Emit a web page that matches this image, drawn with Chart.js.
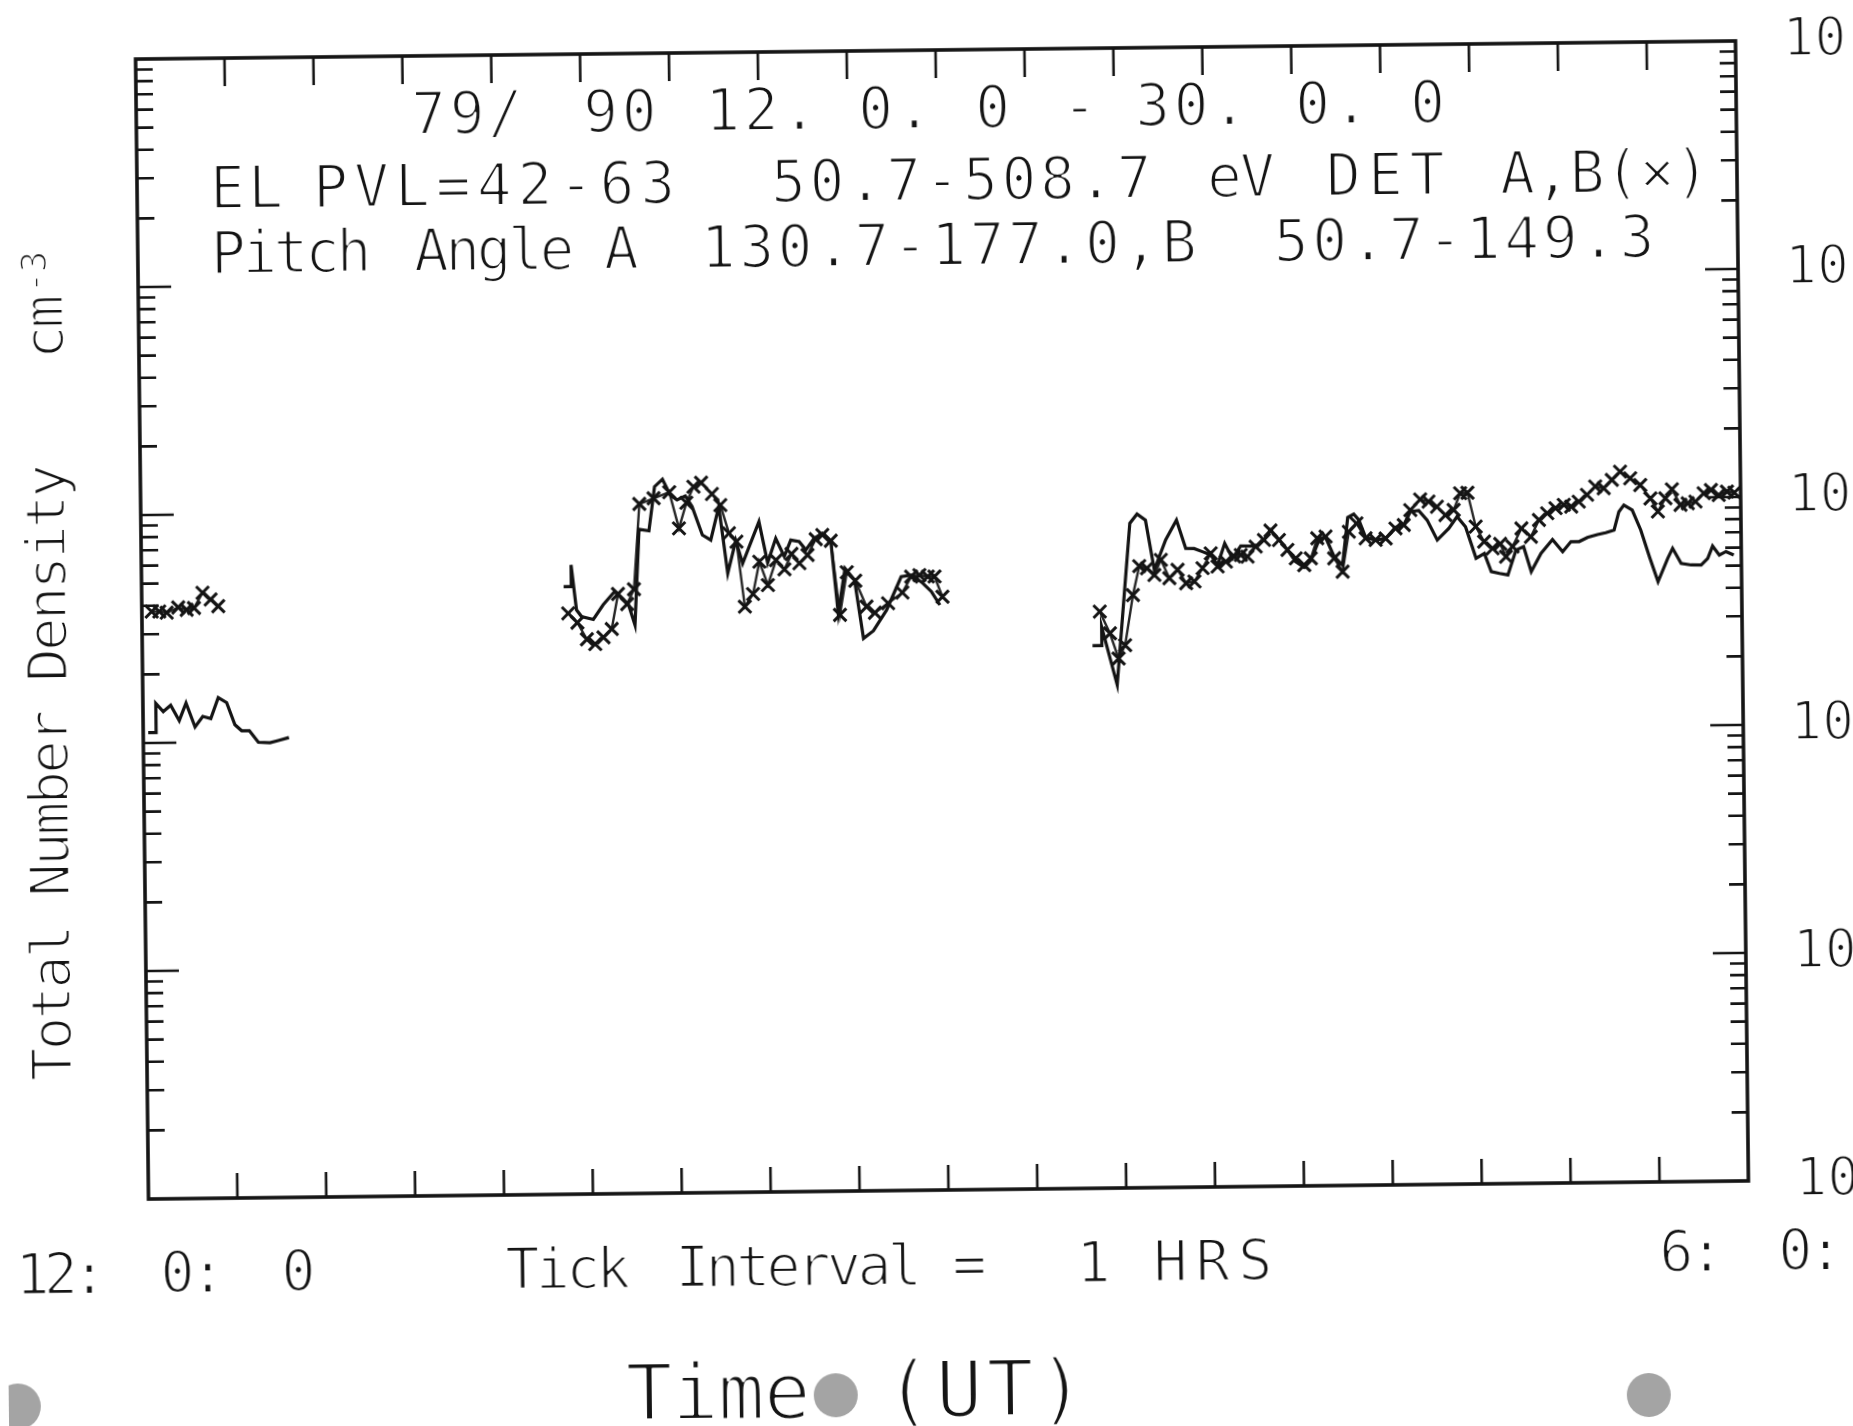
<!DOCTYPE html>
<html>
<head>
<meta charset="utf-8">
<script src="https://cdn.jsdelivr.net/npm/chart.js@4.4.1/dist/chart.umd.min.js"></script>
<style>
  html, body { margin: 0; padding: 0; background: #ffffff; width: 1853px; height: 1426px; overflow: hidden; }
  #chart { position: absolute; left: 0; top: 0; display: block;
           transform-origin: 942px 620px; transform: rotate(-0.65deg); }
</style>
</head>
<body>
<canvas id="chart" width="1853" height="1426"></canvas>
<script>
// Electron total number density, 50.7-508.7 eV, detectors A and B.
// Time is in hours after 12:00:00 UT; a null density breaks the trace between passes.
const hoursA = [
  0.056, 0.145, 0.145, 0.228, 0.312, 0.407, 0.485, 0.584, 0.672, 0.762, 0.848, 0.942, 1.033, 1.108, 1.194, 1.294, 1.425, 1.519, 1.639,
  3.0,
  4.748, 4.834, 4.834, 4.890, 4.946, 5.078, 5.190, 5.321, 5.408, 5.471, 5.546, 5.603, 5.715, 5.783, 5.873, 5.959, 6.034, 6.128, 6.203, 6.315,
  6.409, 6.503, 6.596, 6.690, 6.765, 6.953, 7.046, 7.140, 7.234, 7.309, 7.403, 7.478, 7.571, 7.665, 7.759, 7.834, 7.916, 8.021, 8.115, 8.228,
  8.378, 8.546, 8.670, 8.790, 8.884, 8.978,
  10.0,
  10.690, 10.795, 10.795, 10.963, 11.125, 11.207, 11.301, 11.395, 11.526, 11.650, 11.751, 11.845, 11.938, 12.032, 12.107, 12.190, 12.276,
  12.370, 12.482, 12.557, 12.632, 12.707, 12.801, 12.895, 12.988, 13.082, 13.157, 13.251, 13.326, 13.420, 13.513, 13.577, 13.645, 13.701,
  13.776, 13.888, 14.001, 14.113, 14.207, 14.282, 14.376, 14.470, 14.582, 14.713, 14.807, 14.901, 15.016, 15.110, 15.185, 15.278, 15.372,
  15.466, 15.552, 15.635, 15.747, 15.878, 15.991, 16.085, 16.178, 16.272, 16.385, 16.478, 16.572, 16.628, 16.685, 16.778, 16.872, 16.966,
  17.060, 17.172, 17.228, 17.322, 17.435, 17.547, 17.622, 17.678, 17.753, 17.828, 17.915
];
const densityA = [
  0.111, 0.111, 0.149, 0.137, 0.146, 0.125, 0.149, 0.117, 0.130, 0.127, 0.157, 0.149, 0.119, 0.112, 0.112, 0.0995, 0.0989, 0.101, 0.104,
  null,
  0.462, 0.462, 0.575, 0.365, 0.341, 0.331, 0.383, 0.438, 0.405, 0.388, 0.311, 0.818, 0.805, 1.256, 1.352, 1.153, 1.096, 1.140, 1.023, 0.767,
  0.728, 1.019, 0.519, 0.721, 0.573, 0.871, 0.575, 0.735, 0.611, 0.721, 0.710, 0.652, 0.731, 0.769, 0.713, 0.342, 0.538, 0.479, 0.265, 0.286,
  0.352, 0.492, 0.500, 0.459, 0.422, 0.368,
  null,
  0.240, 0.240, 0.290, 0.161, 0.822, 0.902, 0.847, 0.512, 0.692, 0.845, 0.634, 0.632, 0.612, 0.592, 0.533, 0.664, 0.570,
  0.646, 0.644, 0.650, 0.684, 0.755, 0.687, 0.617, 0.547, 0.516, 0.552, 0.679, 0.697, 0.573, 0.526, 0.851, 0.879, 0.828,
  0.695, 0.675, 0.685, 0.766, 0.783, 0.895, 0.904, 0.820, 0.670, 0.753, 0.847, 0.764, 0.555, 0.582, 0.484, 0.475, 0.467,
  0.600, 0.621, 0.482, 0.579, 0.665, 0.587, 0.649, 0.649, 0.676, 0.695, 0.708, 0.726, 0.873, 0.933, 0.887, 0.724, 0.553,
  0.429, 0.542, 0.600, 0.515, 0.506, 0.505, 0.540, 0.611, 0.557, 0.577, 0.557
];
const hoursB = [
  0.110, 0.196, 0.279, 0.410, 0.504, 0.587, 0.685, 0.775, 0.860,
  3.0,
  4.796, 4.898, 5.003, 5.096, 5.190, 5.284, 5.359, 5.460, 5.539, 5.610, 5.771, 5.948, 6.053, 6.139, 6.221, 6.308, 6.428, 6.521, 6.615, 6.698,
  6.784, 6.878, 6.953, 7.046, 7.140, 7.234, 7.316, 7.403, 7.496, 7.590, 7.665, 7.759, 7.853, 7.935, 8.029, 8.153, 8.246, 8.396, 8.558, 8.659,
  8.752, 8.846, 8.921, 9.008,
  10.0,
  10.776, 10.888, 10.982, 11.057, 11.151, 11.226, 11.312, 11.395, 11.470, 11.563, 11.657, 11.751, 11.845, 11.938, 12.032, 12.107,
  12.201, 12.295, 12.370, 12.445, 12.538, 12.632, 12.707, 12.801, 12.895, 12.988, 13.082, 13.157, 13.232, 13.326, 13.420, 13.513,
  13.588, 13.675, 13.776, 13.888, 14.001, 14.113, 14.207, 14.282, 14.395, 14.488, 14.582, 14.676, 14.770, 14.845, 14.927, 15.016,
  15.109, 15.203, 15.290, 15.353, 15.428, 15.530, 15.635, 15.728, 15.822, 15.916, 16.010, 16.092, 16.178, 16.272, 16.366, 16.460,
  16.553, 16.647, 16.760, 16.872, 16.985, 17.067, 17.153, 17.228, 17.322, 17.404, 17.491, 17.585, 17.667, 17.753, 17.847, 17.930
];
const densityB = [
  0.377, 0.377, 0.372, 0.392, 0.382, 0.389, 0.453, 0.423, 0.395,
  null,
  0.353, 0.321, 0.271, 0.258, 0.276, 0.300, 0.427, 0.385, 0.447, 1.057, 1.117, 1.186, 0.822, 1.064, 1.250, 1.300, 1.159, 1.035, 0.778, 0.714,
  0.370, 0.420, 0.582, 0.459, 0.590, 0.537, 0.627, 0.570, 0.619, 0.726, 0.757, 0.713, 0.337, 0.518, 0.475, 0.365, 0.343, 0.377, 0.419, 0.492,
  0.499, 0.491, 0.491, 0.400,
  null,
  0.338, 0.271, 0.210, 0.240, 0.398, 0.533, 0.521, 0.486, 0.566, 0.470, 0.511, 0.446, 0.453, 0.518, 0.601, 0.526,
  0.552, 0.581, 0.589, 0.579, 0.640, 0.684, 0.752, 0.682, 0.617, 0.566, 0.528, 0.565, 0.692, 0.703, 0.564, 0.492,
  0.736, 0.800, 0.687, 0.675, 0.685, 0.757, 0.783, 0.910, 1.012, 0.989, 0.938, 0.861, 0.906, 1.072, 1.076, 0.764,
  0.656, 0.612, 0.640, 0.562, 0.622, 0.746, 0.685, 0.811, 0.867, 0.912, 0.942, 0.925, 0.971, 1.040, 1.130, 1.109,
  1.205, 1.309, 1.222, 1.140, 0.995, 0.871, 0.995, 1.089, 0.929, 0.944, 0.959, 1.042, 1.076, 1.021, 1.057, 1.045
];

// Axis ticks: one per hour on the time axis, decades with 2..9 minors on the density axis.
const hourTicks = [1, 2, 3, 4, 5, 6, 7, 8, 9, 10, 11, 12, 13, 14, 15, 16, 17];
const decadeTicks = [0.001, 0.01, 0.1, 1, 10, 100];
const decadeExponents = ['-3', '-2', '-1', '0', '1', '2'];
const minorFactors = [2, 3, 4, 5, 6, 7, 8, 9];

// Text of the plot header and time axis.
const headerLine1 = ['79/', '90', '12.', '0.', '0', '-', '30.', '0.', '0'];
const headerLine2 = ['EL', 'PVL=42-63', '50.7-508.7', 'eV', 'DET', 'A,B(×)'];
const headerLine3 = ['Pitch', 'Angle', 'A', '130.7-177.0,B', '50.7-149.3'];
const startLabel = ['12:', '0:', '0'];
const endLabel = ['6:', '0:', '0'];
const intervalLabel = ['Tick', 'Interval', '=', '1', 'HRS'];

const INK = '#141414';
const MONO = '"DejaVu Sans Mono", "Liberation Mono", monospace';

// Pen-plotter lettering: fill the glyph, then trim its edges with a thin
// white outline so the strokes come out fine like a plotter pen.
function word(ctx, str, x, y, size, spacing, trim) {
  ctx.font = size + 'px ' + MONO;
  ctx.letterSpacing = spacing + 'px';
  ctx.fillStyle = INK;
  ctx.fillText(str, x, y);
  ctx.strokeStyle = '#ffffff';
  ctx.lineWidth = trim === undefined ? 2.2 : trim;
  ctx.lineJoin = 'round';
  ctx.strokeText(str, x, y);
}

const plotterFrame = {
  id: 'plotterFrame',
  beforeDatasetsDraw(chart) {
    const { ctx, chartArea: a, scales: { x, y } } = chart;
    ctx.save();
    ctx.strokeStyle = INK;
    ctx.lineCap = 'butt';
    ctx.lineWidth = 3.6;
    ctx.strokeRect(a.left, a.top, a.right - a.left, a.bottom - a.top);
    ctx.lineWidth = 2.6;
    ctx.beginPath();
    hourTicks.forEach(h => {
      const px = x.getPixelForValue(h);
      ctx.moveTo(px, a.top); ctx.lineTo(px, a.top + 28);
      ctx.moveTo(px, a.bottom); ctx.lineTo(px, a.bottom - 25);
    });
    decadeTicks.forEach((d, i) => {
      const py = y.getPixelForValue(d);
      if (i > 0 && i < decadeTicks.length - 1) {
        ctx.moveTo(a.left, py); ctx.lineTo(a.left + 33, py);
        ctx.moveTo(a.right, py); ctx.lineTo(a.right - 33, py);
      }
      if (i < decadeTicks.length - 1) {
        minorFactors.forEach(m => {
          const pm = y.getPixelForValue(d * m);
          ctx.moveTo(a.left, pm); ctx.lineTo(a.left + 17, pm);
          ctx.moveTo(a.right, pm); ctx.lineTo(a.right - 16, pm);
        });
      }
    });
    ctx.stroke();
    ctx.restore();
  },
  afterDraw(chart) {
    const { ctx, scales: { y } } = chart;
    ctx.save();
    ctx.textAlign = 'left';
    ctx.textBaseline = 'alphabetic';

    // header inside the frame
    const x1 = [417, 589, 711, 864, 981, 1068, 1141, 1301, 1416];
    headerLine1.forEach((s, i) => word(ctx, s, x1[i], 128, 58, 3.5));
    const x2 = [215, 318, 776, 1212, 1331, 1505];
    const s2 = [3, 6, 3.5, -2, 7, 0];
    headerLine2.forEach((s, i) => word(ctx, s, x2[i], 200, 58, s2[i]));
    const x3 = [215, 418, 608, 705, 1278];
    const s3 = [-3.5, -3.5, 0, 3.5, 3.5];
    headerLine3.forEach((s, i) => word(ctx, s, x3[i], 265, 58, s3[i]));

    // decade labels on the right; the exponent runs past the sheet edge
    decadeTicks.forEach((d, i) => {
      const py = y.getPixelForValue(d) + 15;
      word(ctx, '10', 1789, py, 53, 0);
      word(ctx, decadeExponents[i], 1866, py - 22, 30, 0);
    });

    // time axis annotations
    word(ctx, startLabel[0], 8, 1284, 57, -6);
    word(ctx, startLabel[1], 153, 1284, 57, -4);
    word(ctx, startLabel[2], 274, 1284, 57, -4);
    const xi = [498, 668, 945, 1069, 1146];
    const si = [-4, -4, -4, -4, 8];
    intervalLabel.forEach((s, i) => word(ctx, s, xi[i], 1284, 57, si[i]));
    const xe = [1652, 1771, 1890];
    endLabel.forEach((s, i) => word(ctx, s, xe[i], 1280, 57, -4));
    word(ctx, 'Time', 617, 1417, 78, -1, 2.8);
    word(ctx, '(UT)', 876, 1417, 78, 4, 2.8);

    // vertical axis title
    ctx.save();
    ctx.translate(66, 1071);
    ctx.rotate(-Math.PI / 2);
    word(ctx, 'Total Number Density', 0, 0, 56, -3);
    word(ctx, 'cm', 722, 0, 56, -3);
    word(ctx, '-3', 788, -16, 36, -1, 1.6);
    ctx.restore();

    // binder holes along the lower margin
    ctx.fillStyle = '#a4a4a4';
    [[9, 1396, 23], [827, 1394, 22], [1640, 1403, 22]].forEach(([cx, cy, r]) => {
      ctx.beginPath(); ctx.arc(cx, cy, r, 0, Math.PI * 2); ctx.fill();
    });
    ctx.restore();
  }
};

const toPoints = (hours, dens) => hours.map((h, i) => ({ x: h, y: dens[i] }));

new Chart(document.getElementById('chart'), {
  type: 'line',
  data: {
    datasets: [
      {
        label: 'DET A',
        data: toPoints(hoursA, densityA),
        borderColor: INK,
        borderWidth: 3.2,
        pointRadius: 0,
        tension: 0,
        spanGaps: false
      },
      {
        label: 'DET B',
        data: toPoints(hoursB, densityB),
        borderColor: '#262626',
        borderWidth: 2.4,
        pointStyle: 'crossRot',
        pointRadius: 9,
        pointBorderWidth: 3,
        pointBorderColor: INK,
        pointBackgroundColor: 'rgba(0,0,0,0)',
        tension: 0,
        spanGaps: false
      }
    ]
  },
  options: {
    responsive: false,
    animation: false,
    devicePixelRatio: 1,
    events: [],
    layout: { padding: { left: 142, top: 50, right: 111, bottom: 236 } },
    scales: {
      x: { type: 'linear', min: 0, max: 18, display: false },
      y: { type: 'logarithmic', min: 0.001, max: 100, display: false }
    },
    plugins: { legend: { display: false }, tooltip: { enabled: false } }
  },
  plugins: [plotterFrame]
});
</script>
</body>
</html>
